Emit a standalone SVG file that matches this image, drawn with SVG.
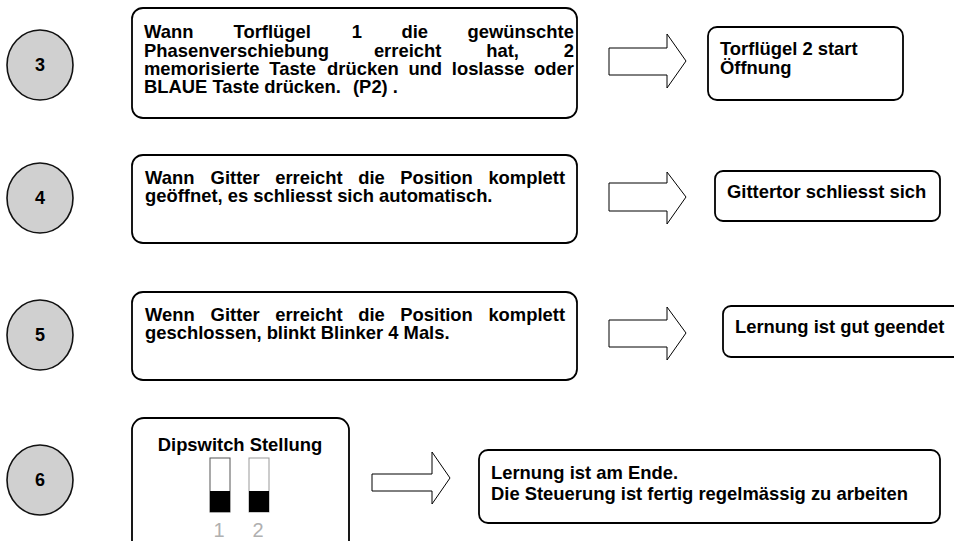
<svg xmlns="http://www.w3.org/2000/svg" width="954" height="541" viewBox="0 0 954 541">
<style>
  .box { fill: #fff; stroke: #000; stroke-width: 1.8; }
  .num { fill: #d0d0d0; stroke: #111; stroke-width: 1.6; }
  .arrow { fill: #fff; stroke: #000; stroke-width: 1; }
  text { font-family: "Liberation Sans", Arial, sans-serif; font-weight: bold; font-size: 18.4px; fill: #000; }
  .n { font-size: 18px; text-anchor: middle; }
  .dig { font-weight: normal; font-size: 20px; fill: #b0b0b0; text-anchor: middle; }
</style>
<rect width="954" height="541" fill="#fff"/>

<g id="step3">
  <ellipse class="num" cx="40" cy="65" rx="33" ry="35"/>
  <text class="n" x="40" y="71">3</text>
</g>
<g id="box3">
  <rect class="box" x="132" y="8" width="445" height="110" rx="11"/>
  <text y="38"><tspan x="144">Wann</tspan><tspan x="233.6">Torflügel</tspan><tspan x="351.8">1</tspan><tspan x="401.5">die</tspan><tspan x="467.6">gewünschte</tspan></text>
  <text y="57"><tspan x="144">Phasenverschiebung</tspan><tspan x="373.9">erreicht</tspan><tspan x="486.2">hat,</tspan><tspan x="563.8">2</tspan></text>
  <text y="75"><tspan x="144">memorisierte</tspan><tspan x="269.3">Taste</tspan><tspan x="327.1">drücken</tspan><tspan x="408.4">und</tspan><tspan x="451.8">loslasse</tspan><tspan x="534.1">oder</tspan></text>
  <text y="93"><tspan x="144">BLAUE Taste drücken.</tspan><tspan x="353">(P2) .</tspan></text>
</g>
<g id="res3">
  <rect class="box" x="708" y="27" width="195" height="73" rx="9"/>
  <text x="720" y="55">Torflügel 2 start</text>
  <text x="720" y="74">Öffnung</text>
</g>

<g id="step4">
  <ellipse class="num" cx="40" cy="198" rx="33" ry="35"/>
  <text class="n" x="40" y="204">4</text>
</g>
<g id="box4">
  <rect class="box" x="132" y="155" width="445" height="88" rx="11"/>
  <text y="184"><tspan x="145">Wann</tspan><tspan x="210.6">Gitter</tspan><tspan x="275.2">erreicht</tspan><tspan x="358.2">die</tspan><tspan x="400.3">Position</tspan><tspan x="488.4">komplett</tspan></text>
  <text x="145" y="202">geöffnet, es schliesst sich automatisch.</text>
</g>
<g id="res4">
  <rect class="box" x="715" y="171" width="225" height="50" rx="8"/>
  <text x="727" y="198">Gittertor schliesst sich</text>
</g>

<g id="step5">
  <ellipse class="num" cx="40" cy="335" rx="33" ry="35"/>
  <text class="n" x="40" y="341">5</text>
</g>
<g id="box5">
  <rect class="box" x="132" y="292" width="445" height="88" rx="11"/>
  <text y="321"><tspan x="145">Wenn</tspan><tspan x="210.6">Gitter</tspan><tspan x="275.2">erreicht</tspan><tspan x="358.2">die</tspan><tspan x="400.3">Position</tspan><tspan x="488.4">komplett</tspan></text>
  <text x="145" y="339">geschlossen, blinkt Blinker 4 Mals.</text>
</g>
<g id="res5">
  <rect class="box" x="723" y="306" width="250" height="51" rx="8"/>
  <text x="735" y="333">Lernung ist gut geendet</text>
</g>

<g id="step6">
  <ellipse class="num" cx="40" cy="480" rx="33" ry="35"/>
  <text class="n" x="40" y="486">6</text>
</g>
<g id="box6">
  <rect class="box" x="132" y="418" width="217" height="140" rx="12"/>
  <text x="240" y="451" text-anchor="middle">Dipswitch Stellung</text>
  <rect x="210" y="458" width="20" height="54" fill="#fff" stroke="#555" stroke-width="1"/>
  <rect x="210" y="491" width="20" height="21" fill="#000"/>
  <rect x="249" y="458" width="20" height="54" fill="#fff" stroke="#999" stroke-width="1"/>
  <rect x="249" y="491" width="20" height="21" fill="#000"/>
  <text class="dig" x="219" y="537">1</text>
  <text class="dig" x="258" y="537">2</text>
</g>
<g id="res6">
  <rect class="box" x="479" y="450" width="461" height="73" rx="9"/>
  <text x="491" y="479">Lernung ist am Ende.</text>
  <text x="491" y="500">Die Steuerung ist fertig regelmässig zu arbeiten</text>
</g>

<g id="connectors">
  <polygon class="arrow" points="609,48 667,48 667,34 686,61 667,88 667,75 609,75"/>
  <polygon class="arrow" points="609,183 667,183 667,172 686,197 667,224 667,211 609,211"/>
  <polygon class="arrow" points="609,320 667,320 667,307 686,333 667,360 667,347 609,347"/>
  <polygon class="arrow" points="372,474 432,474 432,452 450,478 432,504 432,491 372,491"/>
</g>
</svg>
